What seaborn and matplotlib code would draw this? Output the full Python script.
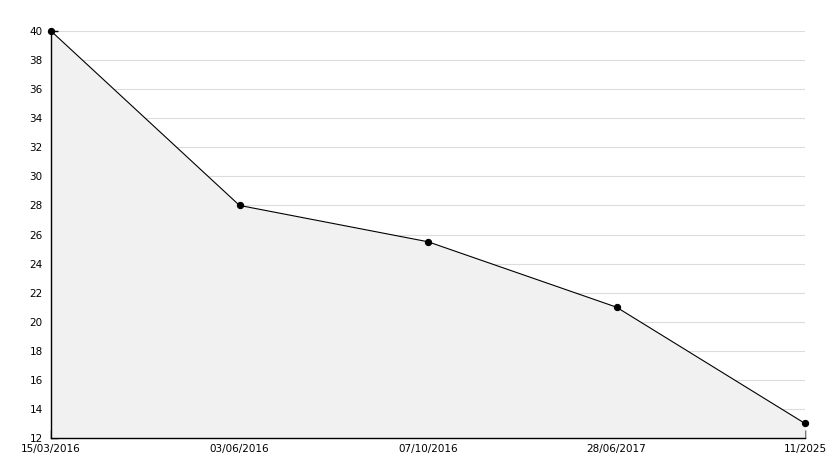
import matplotlib
matplotlib.use("Agg")
import matplotlib.pyplot as plt
import seaborn as sns
import pandas as pd
from matplotlib.ticker import MultipleLocator

dates = ["15/03/2016", "03/06/2016", "07/10/2016", "28/06/2017", "11/2025"]
values = [40, 28, 25.5, 21, 13]

df = pd.DataFrame({"pos": range(len(dates)), "value": values})

sns.set_style("white")
plt.rcParams['font.family'] = ['DejaVu Sans']

fig = plt.figure(figsize=(8.34, 4.68), dpi=100)
ax = fig.add_axes([51/834, 30/468, (805-51)/834, (438-31)/468])

ax.fill_between(df["pos"], df["value"], 12, color="#f1f1f1", zorder=1, linewidth=0)
sns.lineplot(data=df, x="pos", y="value", ax=ax, color="black", linewidth=0.8,
             marker="o", markersize=4.5, markeredgecolor="black", zorder=3)
for ln in ax.lines:
    ln.set_clip_on(False)

ax.set_xlim(0, len(dates) - 1)
ax.set_ylim(12, 40)
ax.yaxis.set_major_locator(MultipleLocator(2))
ax.yaxis.set_minor_locator(MultipleLocator(1))
ax.set_xticks(range(len(dates)))
ax.set_xticklabels(dates)
ax.set_xlabel("")
ax.set_ylabel("")

ax.grid(axis="y", which="major", color="#dcdcdc", linewidth=0.8, zorder=0)
ax.set_axisbelow(True)

for s in ["top", "right"]:
    ax.spines[s].set_visible(False)
for s in ["left", "bottom"]:
    ax.spines[s].set_color("black")
    ax.spines[s].set_linewidth(1.0)

ax.tick_params(axis="y", which="major", direction="in", length=5, width=1, labelsize=7.5,
               pad=6, colors="black", left=True)
ax.tick_params(axis="y", which="minor", direction="in", length=3, width=1, left=True, color="black")
ax.tick_params(axis="x", which="major", direction="in", length=6, width=1, labelsize=7.5,
               pad=4, colors="black", bottom=True)

fig.savefig("out.png", dpi=100)
